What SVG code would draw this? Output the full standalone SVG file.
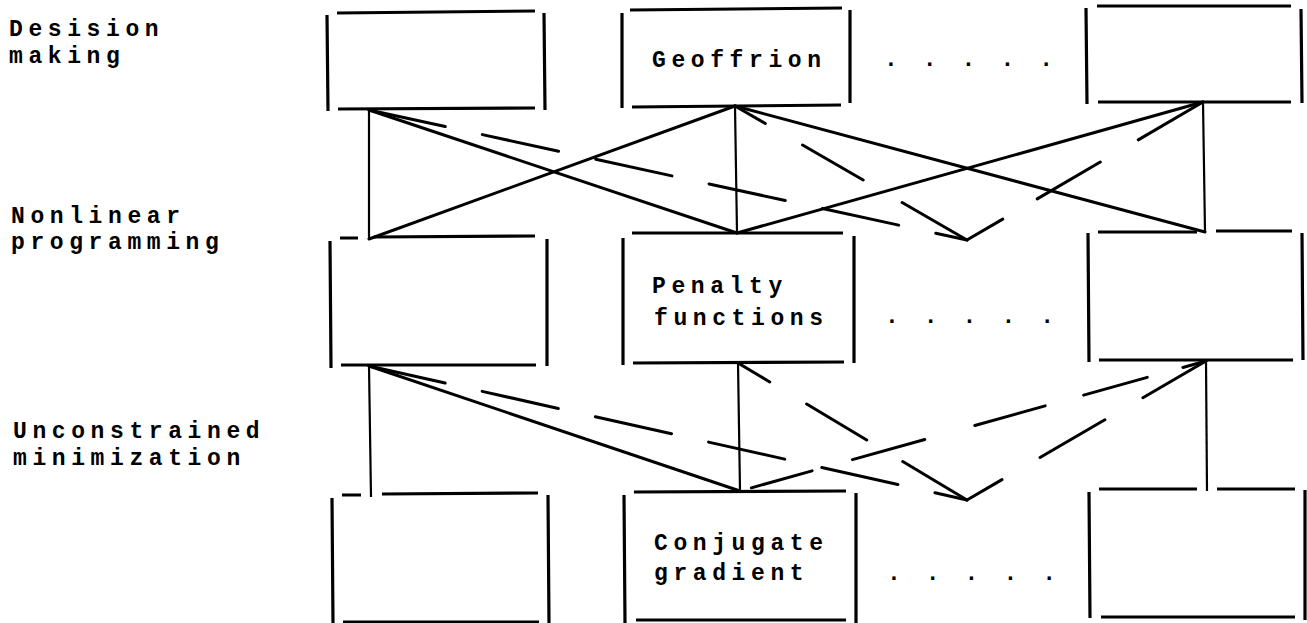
<svg xmlns="http://www.w3.org/2000/svg" width="1307" height="623" viewBox="0 0 1307 623">
  <style>
    .edge { stroke: #000; stroke-width: 3.2; fill: none; stroke-linecap: butt; }
    .link { stroke: #000; stroke-width: 3; fill: none; stroke-linecap: round; }
    .stem { stroke: #000; stroke-width: 2.2; fill: none; }
    text { font-family: "Liberation Mono", "Courier New", monospace; font-weight: bold; font-size: 23px; letter-spacing: 5.6px; fill: #000; }
  </style>
  <rect width="1307" height="623" fill="#fff"/>

  <!-- level labels -->
  <g id="level-decision">
    <text x="9" y="36">Desision</text>
    <text x="9" y="63">making</text>
  </g>
  <g id="level-nlp">
    <text x="11" y="223">Nonlinear</text>
    <text x="11" y="249">programming</text>
  </g>
  <g id="level-unconstrained">
    <text x="13" y="438">Unconstrained</text>
    <text x="13" y="465">minimization</text>
  </g>

  <!-- row 1 -->
  <g id="box-a1">
    <path class="edge" d="M337,13 L535,11 M338,109 L535,108 M327,15 L328,111 M544,13 L545,110"/>
  </g>
  <g id="box-geoffrion">
    <path class="edge" d="M630,10 L842,8 M632,107 L841,105 M622,13 L622,108 M850,10 L850,103"/>
    <text x="652" y="67">Geoffrion</text>
  </g>
  <g id="more-1"><text x="884" y="66">. . . . .</text></g>
  <g id="box-c1">
    <path class="edge" d="M1097,6 L1291,6 M1098,102 L1291,102 M1086,8 L1087,104 M1301,9 L1302,103"/>
  </g>

  <!-- row 2 -->
  <g id="box-a2">
    <path class="edge" d="M340,238 L358,238 M374,237 L535,236 M341,365 L536,365 M330,241 L331,368 M547,239 L547,366"/>
  </g>
  <g id="box-penalty">
    <path class="edge" d="M632,233 L843,233 M633,363 L844,362 M623,238 L623,365 M854,236 L854,363"/>
    <text x="652" y="293">Penalty</text>
    <text x="654" y="325">functions</text>
  </g>
  <g id="more-2"><text x="885" y="323">. . . . .</text></g>
  <g id="box-c2">
    <path class="edge" d="M1098,232 L1197,232 M1216,231 L1292,231 M1099,360 L1293,360 M1088,233 L1089,362 M1302,233 L1303,360"/>
  </g>

  <!-- row 3 -->
  <g id="box-a3">
    <path class="edge" d="M342,495 L361,495 M382,494 L538,493 M343,622 L539,622 M332,498 L333,623 M548,495 L549,623"/>
  </g>
  <g id="box-conjugate">
    <path class="edge" d="M634,492 L846,491 M636,620 L846,620 M624,495 L625,623 M856,493 L856,623"/>
    <text x="654" y="550">Conjugate</text>
    <text x="654" y="580">gradient</text>
  </g>
  <g id="more-3"><text x="887" y="580">. . . . .</text></g>
  <g id="box-c3">
    <path class="edge" d="M1099,489 L1197,489 M1217,489 L1295,489 M1101,617 L1295,617 M1089,492 L1090,618 M1305,490 L1305,620"/>
  </g>

  <!-- connectors -->
  <g id="connectors">
    <!-- level 1 to level 2 -->
    <path class="stem" d="M369,110 L369,239"/>
    <path class="stem" d="M735,106 L737,233"/>
    <path class="stem" d="M1203,102 L1205,232"/>
    <path class="link" d="M369,110 L737,233"/>
    <path class="link" d="M369,239 L735,106"/>
    <path class="link" d="M735,106 L1205,232"/>
    <path class="link" d="M737,233 L1203,102"/>
    <path class="link" d="M369,110 L967,240" stroke-dasharray="78 38"/>
    <path class="link" d="M735,106 L967,240" stroke-dasharray="35 43 70 45 75"/>
    <path class="link" d="M1203,102 L967,240" stroke-dasharray="75 44 73 40 41"/>

    <!-- level 2 to level 3 -->
    <path class="stem" d="M369,366 L371,497"/>
    <path class="stem" d="M738,363 L740,491"/>
    <path class="stem" d="M1206,361 L1207,491"/>
    <path class="link" d="M369,366 L740,491"/>
    <path class="link" d="M369,366 L967,500" stroke-dasharray="78 38"/>
    <path class="link" d="M738,363 L967,500" stroke-dasharray="37 43 70 42 75"/>
    <path class="link" d="M1206,361 L967,500" stroke-dasharray="73 44 75 44 41"/>
    <path class="link" d="M1206,361 L740,491" stroke-dasharray="24 37 66 40 73 52 75 42 63 20"/>
  </g>
</svg>
